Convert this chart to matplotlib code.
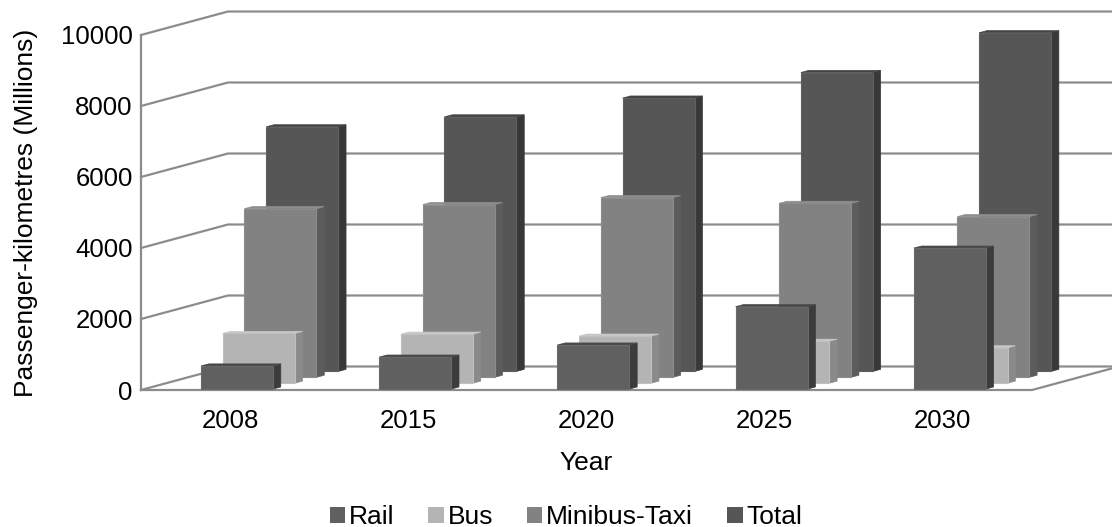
import matplotlib
matplotlib.use('Agg')
import matplotlib.pyplot as plt
from matplotlib.patches import Polygon, Patch

plt.rcParams['font.family'] = ['Liberation Sans', 'DejaVu Sans']

years = ['2008', '2015', '2020', '2025', '2030']
series_names = ['Rail', 'Bus', 'Minibus-Taxi', 'Total']
rail = [650, 900, 1240, 2320, 3970]
bus = [1400, 1380, 1325, 1180, 995]
minibus = [4750, 4865, 5060, 4900, 4525]
total = [6890, 7170, 7700, 8420, 9540]
y_ticks = [0, 2000, 4000, 6000, 8000, 10000]

front_cols = ['#606060', '#b4b4b4', '#828282', '#565656']
edge_cols = ['#6a6a6a', '#c0c0c0', '#8c8c8c', '#606060']
side_cols = ['#3c3c3c', '#8a8a8a', '#5c5c5c', '#383838']
top_cols = ['#4a4a4a', '#c8c8c8', '#8e8e8e', '#444444']
grid_col = '#8c8c8c'

W, H = 1112, 527
# front plane of the fake 3d box, in pixels
left, right, bottom, top = 141, 1032, 390, 35

# one unit of depth in data units (87 px across, 23.5 px up)
dx = 87 / ((right - left) / 5)
dy = 23.5 / ((bottom - top) / 10000)


def proj(x, y, d):
    return (x + dx * d, y + dy * d)


def draw_bar(ax, xc, val, d0, i):
    w = 0.404
    depth = 0.09
    x0 = xc - 0.183
    x1 = x0 + w
    f = [proj(x0, 0, d0), proj(x1, 0, d0), proj(x1, val, d0), proj(x0, val, d0)]
    s = [proj(x1, 0, d0), proj(x1, 0, d0 + depth), proj(x1, val, d0 + depth), proj(x1, val, d0)]
    t = [proj(x0, val, d0), proj(x1, val, d0), proj(x1, val, d0 + depth), proj(x0, val, d0 + depth)]
    ax.add_patch(Polygon(s, closed=True, fc=side_cols[i], ec=side_cols[i], lw=0.5, clip_on=False))
    ax.add_patch(Polygon(t, closed=True, fc=top_cols[i], ec=top_cols[i], lw=0.5, clip_on=False))
    ax.add_patch(Polygon(f, closed=True, fc=front_cols[i], ec=edge_cols[i], lw=0.8, clip_on=False))


fig = plt.figure(figsize=(W / 100, H / 100), dpi=100)
ax = fig.add_axes([left / W, 1 - bottom / H, (right - left) / W, (bottom - top) / H])
ax.set_xlim(-0.5, 4.5)
ax.set_ylim(0, 10000)
for sp in ax.spines.values():
    sp.set_visible(False)

# walls
for v in y_ticks:
    a = proj(-0.5, v, 0)
    b = proj(-0.5, v, 1)
    c = proj(4.5, v, 1)
    ax.plot([a[0], b[0], c[0]], [a[1], b[1], c[1]], color=grid_col, lw=1.6, clip_on=False, zorder=1)
ax.plot([-0.5, -0.5], [0, 10000], color=grid_col, lw=1.6, clip_on=False, zorder=1)
a = proj(4.5, 0, 0)
b = proj(4.5, 0, 1)
ax.plot([-0.5, a[0], b[0]], [0, a[1], b[1]], color=grid_col, lw=1.6, clip_on=False, zorder=1)

# bars, back to front
data = [rail, bus, minibus, total]
for c in range(len(years)):
    for i in [3, 2, 1, 0]:
        draw_bar(ax, c, data[i][c], 0.04 + 0.25 * i, i)

ax.set_xticks(range(len(years)))
ax.set_xticklabels(years)
ax.set_yticks(y_ticks)
ax.tick_params(length=0, labelsize=18.5)
ax.tick_params(axis='x', pad=14)
ax.tick_params(axis='y', pad=6)
ax.set_xlabel('Year', fontsize=19, labelpad=13)
ax.set_ylabel('Passenger-kilometres (Millions)', fontsize=19)
ax.yaxis.set_label_coords(-103 / (right - left), 0.5)

handles = [Patch(fc=front_cols[i], ec='none', label=series_names[i]) for i in range(4)]
fig.legend(handles=handles, loc='lower center', ncol=4, frameon=False, fontsize=19,
           bbox_to_anchor=(566 / W, -0.049), handlelength=0.57, handleheight=0.57,
           handletextpad=0.15, columnspacing=1.3)

fig.savefig('out.png', dpi=100)
